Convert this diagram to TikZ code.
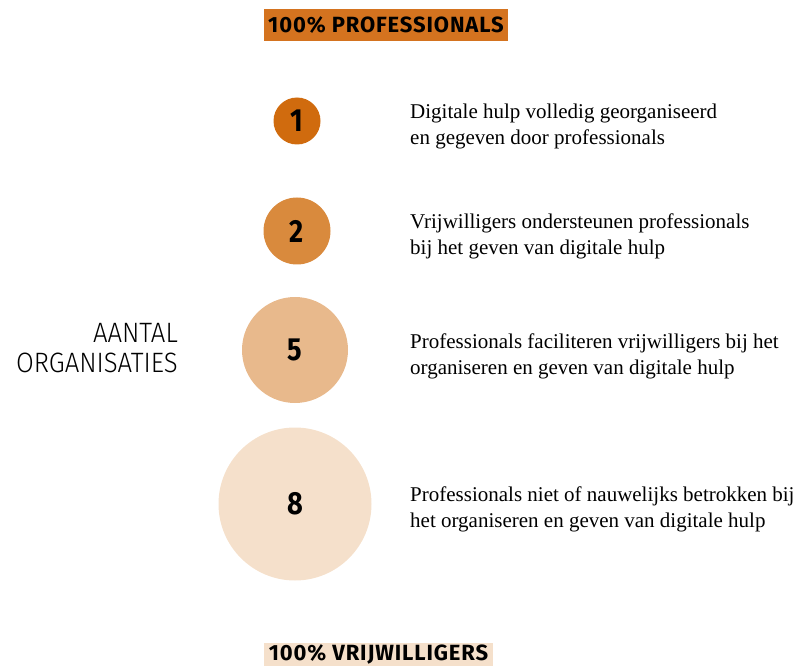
\documentclass[tikz,border=0pt]{standalone}
\usepackage{fontspec}
\setmainfont{Liberation Serif}
\newfontfamily\kopfont[LetterSpace=4]{Fira Sans}
\newfontfamily\cijferfont[FakeStretch=0.85]{Fira Sans}
\newfontfamily\dunfont[FakeStretch=0.92]{Fira Sans Light}
\usetikzlibrary{positioning}
\definecolor{oranje}{HTML}{D4731F}
\definecolor{bolA}{HTML}{D06B0E}
\definecolor{bolB}{HTML}{D98A3D}
\definecolor{bolC}{HTML}{E8B98C}
\definecolor{bolD}{HTML}{F5E0CB}

\begin{document}
\begin{tikzpicture}[x=1pt,y=1pt,
    balk/.style={inner sep=0pt, minimum height=32pt, font=\kopfont\bfseries\fontsize{22}{22}\selectfont},
    bol/.style={circle, inner sep=0pt, font=\cijferfont\bfseries\fontsize{32}{32}\selectfont},
    uitleg/.style={anchor=west, align=left, inner sep=0pt, font=\fontsize{21}{26}\selectfont}]
          \useasboundingbox (0,0) rectangle (807,-666);
          \node[balk, fill=oranje, minimum width=244pt] (prof) at (386,-25) {100\% PROFESSIONALS};
          \node[balk, fill=bolD, minimum width=229pt, minimum height=23pt] (vrij) at (378.5,-654.5) {100\% VRIJWILLIGERS};
          \node[bol, fill=bolA, minimum size=47pt] (een) at (297,-121) {1};
          \node[bol, fill=bolB, minimum size=67pt] (twee) at (297,-231) {2};
          \node[bol, fill=bolC, minimum size=106pt] (vijf) at (295,-350) {5};
          \node[bol, fill=bolD, minimum size=153pt] (acht) at (295,-504) {8};
          \node[anchor=east, align=right, inner sep=0pt, font=\dunfont\fontsize{28}{30}\selectfont] (aantal) at (178,-348) {AANTAL\\ORGANISATIES};
          \node[uitleg] (t1) at (410,-126) {Digitale hulp volledig georganiseerd\\en gegeven door professionals};
          \node[uitleg] (t2) at (410,-236) {Vrijwilligers ondersteunen professionals\\bij het geven van digitale hulp};
          \node[uitleg] (t5) at (410,-356) {Professionals faciliteren vrijwilligers bij het\\organiseren en geven van digitale hulp};
          \node[uitleg] (t8) at (410,-509) {Professionals niet of nauwelijks betrokken bij\\het organiseren en geven van digitale hulp};
        \end{tikzpicture}
\end{document}
